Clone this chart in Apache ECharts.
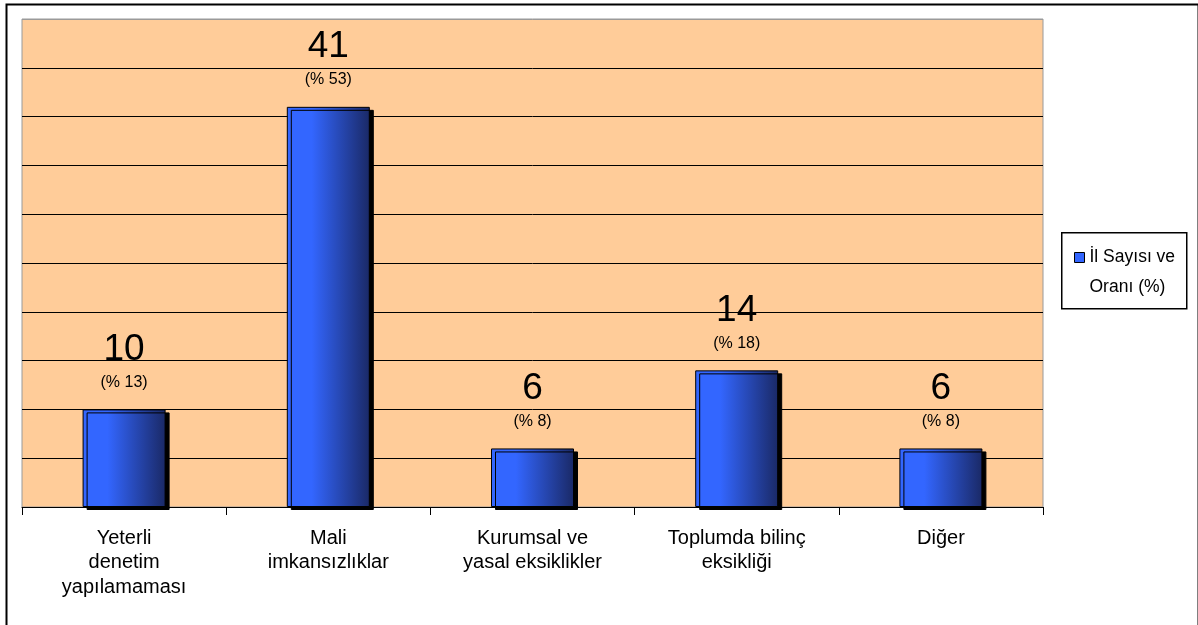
<!DOCTYPE html>
<html><head><meta charset="utf-8">
<script src="https://cdn.jsdelivr.net/npm/echarts@6/dist/echarts.min.js"></script>
<style>html,body{margin:0;padding:0;background:#fff}#c{width:1198px;height:625px}</style>
</head><body><div id="c"></div>
<script>
const categories = ['Yeterli\ndenetim\nyapılamaması', 'Mali\nimkansızlıklar', 'Kurumsal ve\nyasal eksiklikler', 'Toplumda bilinç\neksikliği', 'Diğer'];
const counts = [10, 41, 6, 14, 6];
const percents = [13, 53, 8, 18, 8];
const seriesName = 'İl Sayısı ve\nOranı (%)';

const FONT = 'Liberation Sans, Arial, sans-serif';
const chart = echarts.init(document.getElementById('c'));
const barGrad = new echarts.graphic.LinearGradient(0, 0, 1, 0, [
  {offset: 0, color: '#3366ff'},
  {offset: 0.3, color: '#3366ff'},
  {offset: 1, color: '#1a2966'}
]);
const gridColors = ['#000','#000','#000','#000','#000','#000','#000','#000','#000','#000','#9a9a9a'];
chart.setOption({
  animation: false,
  textStyle: {fontFamily: FONT},
  graphic: [{
    type: 'rect', left: 4, top: 2, silent: true, z: -10,
    shape: {width: 1192, height: 640},
    style: {fill: 'none', stroke: '#000', lineWidth: 2}
  }, {
    type: 'rect', left: 1061, top: 232, silent: true, z: 10,
    shape: {width: 125, height: 76},
    style: {fill: '#fff', stroke: '#000', lineWidth: 1.5}
  }],
  grid: {left: 22, right: 155, top: 19, bottom: 118, show: true, backgroundColor: '#ffcc99', borderColor: '#9a9a9a', borderWidth: 1},
  legend: {
    left: 1069, top: 237, orient: 'vertical', z: 20,
    itemWidth: 10, itemHeight: 60, itemGap: 0,
    icon: 'path://M0,0L0.01,0 M0,10L10,10L10,20L0,20Z M0,60L0.01,60',
    textStyle: {fontSize: 17.5, color: '#000', lineHeight: 30, align: 'center', fontFamily: FONT},
    data: [{name: seriesName, itemStyle: {color: '#3366ff', borderColor: '#000', borderWidth: 1}}]
  },
  xAxis: {
    type: 'category', data: categories,
    axisLine: {lineStyle: {color: '#000', width: 1}},
    axisTick: {show: true, length: 8, lineStyle: {color: '#000'}},
    axisLabel: {color: '#000', fontSize: 20, lineHeight: 24.5, margin: 19, interval: 0, fontFamily: FONT}
  },
  yAxis: {
    type: 'value', min: 0, max: 50, interval: 5,
    axisLabel: {show: false}, axisTick: {show: false}, axisLine: {show: false},
    splitLine: {lineStyle: {color: gridColors, width: 1}}
  },
  series: [{
    name: seriesName, type: 'bar', data: counts, barWidth: 83,
    itemStyle: {color: barGrad, borderColor: '#000', borderWidth: 1, shadowColor: '#000', shadowOffsetX: 4, shadowOffsetY: 3, shadowBlur: 0},
    label: {
      show: true, position: 'top', distance: 15,
      formatter: p => '{a|' + counts[p.dataIndex] + '}\n{b|(% ' + percents[p.dataIndex] + ')}',
      rich: {
        a: {fontSize: 37, lineHeight: 42, color: '#000', fontFamily: FONT},
        b: {fontSize: 16, lineHeight: 24, color: '#000', fontFamily: FONT}
      }
    }
  }]
});
</script></body></html>
